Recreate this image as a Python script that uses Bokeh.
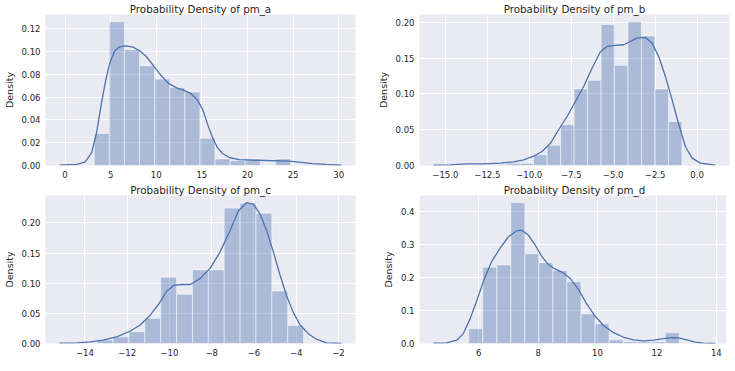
from bokeh.plotting import figure
from bokeh.layouts import gridplot
from bokeh.models import FixedTicker, Range1d
from bokeh.embed import file_html
from bokeh.resources import INLINE
import numpy as np

# ---------------- data ----------------
# pm_a
a_bin_start = 3.2
a_bin_width = 1.655
a_hist = [0.028, 0.126, 0.1015, 0.0875, 0.0757, 0.0683, 0.0643, 0.0239, 0.0058, 0.0044, 0.0058, 0.0, 0.0058]
a_kde_x = [-0.6, 1.27, 2.18, 2.91, 3.45, 4.0, 4.47, 4.91, 5.45, 6.0, 6.73, 7.45, 8.18, 8.91, 9.75, 10.55,
           11.38, 12.18, 13.02, 13.82, 14.55, 15.09, 15.64, 16.18, 16.73, 17.27, 18.0, 19.09, 20.55, 22.0,
           23.45, 24.55, 25.64, 27.09, 28.55, 30.3]
a_kde_y = [0.0003, 0.001, 0.003, 0.011, 0.0285, 0.055, 0.075, 0.090, 0.1005, 0.104, 0.1049, 0.1037, 0.1005,
           0.0955, 0.0868, 0.0786, 0.0717, 0.0682, 0.0658, 0.0629, 0.0571, 0.049, 0.0358, 0.0242, 0.0154,
           0.0105, 0.007, 0.0052, 0.0047, 0.0044, 0.0041, 0.0038, 0.0029, 0.0017, 0.0009, 0.0002]
a_xticks = [0, 5, 10, 15, 20, 25, 30]
a_xlabels = ["0", "5", "10", "15", "20", "25", "30"]
a_yticks = [0.0, 0.02, 0.04, 0.06, 0.08, 0.10, 0.12]
a_ylabels = ["0.00", "0.02", "0.04", "0.06", "0.08", "0.10", "0.12"]

# pm_b
b_bin_start = -15.36
b_bin_width = 0.803
b_hist = [0.0009, 0.0, 0.0, 0.0, 0.0015, 0.003, 0.003, 0.0149, 0.0284, 0.0573, 0.107, 0.119, 0.197,
          0.14, 0.201, 0.181, 0.107, 0.0615]
b_kde_x = [-15.7, -14.7, -13.71, -12.72, -11.72, -10.93, -10.33, -9.74, -9.24, -8.74, -8.25, -7.75, -7.25,
           -6.76, -6.26, -5.76, -5.36, -4.87, -4.37, -3.97, -3.58, -3.08, -2.68, -2.28, -1.89, -1.49,
           -1.09, -0.70, -0.30, 0.2, 1.09]
b_kde_y = [0.0005, 0.001, 0.0023, 0.0023, 0.0033, 0.0051, 0.0079, 0.013, 0.0196, 0.031, 0.05, 0.0685,
           0.0895, 0.1105, 0.136, 0.159, 0.1664, 0.1678, 0.1688, 0.1734, 0.178, 0.179, 0.171, 0.152,
           0.1245, 0.0918, 0.0569, 0.0266, 0.0103, 0.0033, 0.0005]
b_xticks = [-15.0, -12.5, -10.0, -7.5, -5.0, -2.5, 0.0]
b_xlabels = ["\u221215.0", "\u221212.5", "\u221210.0", "\u22127.5", "\u22125.0", "\u22122.5", "0.0"]
b_yticks = [0.0, 0.05, 0.10, 0.15, 0.20]
b_ylabels = ["0.00", "0.05", "0.10", "0.15", "0.20"]

# pm_c
c_bin_start = -13.42
c_bin_width = 0.7515
c_hist = [0.006, 0.011, 0.0196, 0.042, 0.11, 0.0815, 0.122, 0.122, 0.2245, 0.2326, 0.2158, 0.087, 0.030]
c_kde_x = [-15.2, -14.36, -13.73, -13.1, -12.47, -11.85, -11.37, -10.9, -10.51, -10.12, -9.8, -9.41,
           -9.01, -8.54, -8.07, -7.6, -7.13, -6.73, -6.34, -6.03, -5.71, -5.4, -5.08, -4.77, -4.45,
           -4.14, -3.82, -3.43, -3.04, -2.57, -1.86]
c_kde_y = [0.0005, 0.001, 0.0027, 0.006, 0.0114, 0.0207, 0.031, 0.0473, 0.0652, 0.087, 0.0962, 0.0978,
           0.0978, 0.108, 0.125, 0.152, 0.1875, 0.22, 0.2337, 0.231, 0.2147, 0.1875, 0.152, 0.114,
           0.0788, 0.0516, 0.031, 0.0163, 0.0071, 0.0011, 0.0]
c_xticks = [-14, -12, -10, -8, -6, -4, -2]
c_xlabels = ["\u221214", "\u221212", "\u221210", "\u22128", "\u22126", "\u22124", "\u22122"]
c_yticks = [0.0, 0.05, 0.10, 0.15, 0.20]
c_ylabels = ["0.00", "0.05", "0.10", "0.15", "0.20"]

# pm_d
d_bin_start = 5.663
d_bin_width = 0.4727
d_hist = [0.0448, 0.231, 0.238, 0.427, 0.2716, 0.245, 0.221, 0.187, 0.0896, 0.0597, 0.011, 0.005,
          0.005, 0.005, 0.033]
d_kde_x = [4.48, 4.92, 5.26, 5.48, 5.71, 5.93, 6.16, 6.44, 6.72, 7.0, 7.28, 7.45, 7.67, 7.9, 8.12,
           8.35, 8.57, 8.85, 9.08, 9.36, 9.64, 9.92, 10.2, 10.54, 10.88, 11.21, 11.55, 11.89, 12.22,
           12.51, 12.73, 13.01, 13.29, 13.57, 13.97]
d_kde_y = [0.001, 0.002, 0.01, 0.03, 0.0746, 0.129, 0.189, 0.249, 0.2886, 0.3234, 0.3413, 0.3433,
           0.3284, 0.2985, 0.2637, 0.2388, 0.2259, 0.2139, 0.197, 0.164, 0.119, 0.0826, 0.0547, 0.0328,
           0.0189, 0.011, 0.008, 0.01, 0.0149, 0.0179, 0.0169, 0.011, 0.004, 0.001, 0.0]
d_xticks = [4, 6, 8, 10, 12, 14]
d_xlabels = ["4", "6", "8", "10", "12", "14"]
d_yticks = [0.0, 0.1, 0.2, 0.3, 0.4]
d_ylabels = ["0.0", "0.1", "0.2", "0.3", "0.4"]

# ---------------- style ----------------
BLUE = "#4C72B0"
BG = "#EAEAF2"
TXT = "#262626"
FONT = "DejaVu Sans"


def panel(title, bin_start, bin_width, hist, kx, ky, xt, xl, yt, yl,
          fw, fh, bl, br, bt, bb):
    x0, x1 = min(kx), max(kx)
    pad = 0.05 * (x1 - x0)
    ymax = max(max(hist), max(ky)) * 1.05
    p = figure(frame_width=fw, frame_height=fh, x_range=Range1d(x0 - pad, x1 + pad),
               y_range=Range1d(0, ymax), output_backend="svg", toolbar_location=None,
               min_border_left=bl, min_border_right=br, min_border_top=bt, min_border_bottom=bb)
    p.background_fill_color = BG
    p.border_fill_color = "white"
    p.outline_line_color = None

    p.title.text = title
    p.title.align = "center"
    p.title.text_font = FONT
    p.title.text_font_size = "10.3px"
    p.title.text_font_style = "normal"
    p.title.text_color = TXT
    p.title.standoff = 0
    p.title.offset = 7

    n = len(hist)
    edges = bin_start + bin_width * np.arange(n + 1)
    p.quad(left=edges[:-1], right=edges[1:], bottom=0, top=hist,
           fill_color=BLUE, fill_alpha=0.4, line_color="white", line_alpha=0.5, line_width=1)
    p.line(kx, ky, line_color=BLUE, line_width=1.3)

    p.xaxis.ticker = FixedTicker(ticks=xt)
    p.xaxis.major_label_overrides = {t: l for t, l in zip(xt, xl)}
    p.yaxis.ticker = FixedTicker(ticks=yt)
    p.yaxis.major_label_overrides = {t: l for t, l in zip(yt, yl)}
    p.yaxis.axis_label = "Density"
    p.xaxis.axis_label = None

    for ax in (p.xaxis, p.yaxis):
        ax.axis_line_color = None
        ax.major_tick_line_color = None
        ax.minor_tick_line_color = None
        ax.major_tick_out = 0
        ax.major_tick_in = 0
        ax.minor_tick_out = 0
        ax.minor_tick_in = 0
        ax.major_label_text_font = FONT
        ax.major_label_text_font_size = "8.5px"
        ax.major_label_text_color = TXT
        ax.axis_label_text_font = FONT
        ax.axis_label_text_font_size = "9.5px"
        ax.axis_label_text_font_style = "normal"
        ax.axis_label_text_color = TXT
    p.xaxis.major_label_standoff = 5
    p.yaxis.major_label_standoff = 5
    p.yaxis.axis_label_standoff = 4

    p.grid.grid_line_color = "white"
    p.grid.grid_line_width = 1
    return p


pa = panel("Probability Density of pm_a", a_bin_start, a_bin_width, a_hist, a_kde_x, a_kde_y,
           a_xticks, a_xlabels, a_yticks, a_ylabels, 310, 151, 38, 19, 10, 16)
pb = panel("Probability Density of pm_b", b_bin_start, b_bin_width, b_hist, b_kde_x, b_kde_y,
           b_xticks, b_xlabels, b_yticks, b_ylabels, 310, 151, 40, 2, 10, 16)
pc = panel("Probability Density of pm_c", c_bin_start, c_bin_width, c_hist, c_kde_x, c_kde_y,
           c_xticks, c_xlabels, c_yticks, c_ylabels, 310, 148, 38, 19, 13, 17)
pd = panel("Probability Density of pm_d", d_bin_start, d_bin_width, d_hist, d_kde_x, d_kde_y,
           d_xticks, d_xlabels, d_yticks, d_ylabels, 310, 148, 40, 2, 13, 17)

layout = gridplot([[pa, pb], [pc, pd]], toolbar_location=None)

open("out.html", "w").write(file_html(layout, INLINE))
